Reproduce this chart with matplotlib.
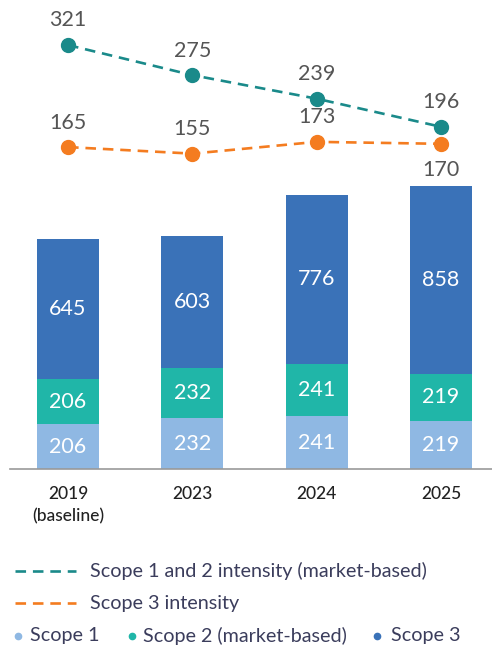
import matplotlib
matplotlib.use("Agg")
import matplotlib.pyplot as plt
import numpy as np
from matplotlib.lines import Line2D

plt.rcParams['font.family'] = ['Lato', 'DejaVu Sans']

years = ['2019\n(baseline)', '2023', '2024', '2025']
scope1 = [206, 232, 241, 219]
scope2 = [206, 232, 241, 219]
scope3 = [645, 603, 776, 858]
intensity_12 = [321, 275, 239, 196]
intensity_3 = [165, 155, 173, 170]

c_s1 = '#8fb8e3'
c_s2 = '#20b6a8'
c_s3 = '#3a72b8'
c_l12 = '#1a8a8a'
c_l3 = '#f47c20'
c_txt = '#555555'
c_leg = '#3b3d5c'

W, H = 492, 650
fig = plt.figure(figsize=(W / 100, H / 100), dpi=100)

# axes: bottom at y=469 px, top at y=20 px
top_px, bot_px = 20, 469
ax = fig.add_axes([10 / W, 1 - bot_px / H, 1 - 10 / W, (bot_px - top_px) / H])
x = np.arange(len(years))

s1 = np.array(scope1)
s2 = np.array(scope2)
s3 = np.array(scope3)
ax.bar(x, s1, width=0.5, color=c_s1)
ax.bar(x, s2, width=0.5, bottom=s1, color=c_s2)
ax.bar(x, s3, width=0.5, bottom=s1 + s2, color=c_s3)

for i in x:
    for base, val in [(0, s1[i]), (s1[i], s2[i]), (s1[i] + s2[i], s3[i])]:
        ax.text(i, base + val / 2, f'{val}', ha='center', va='center',
                color='white', fontsize=15.5)

ax.set_xlim(-0.467, 3.41)
ax.set_ylim(0, (bot_px - top_px) / 0.218)
ax.set_yticks([])
ax.set_xticks(x)
ax.set_xticklabels(years, fontsize=12.5, color='#222222', fontweight='medium',
                   linespacing=1.5)
ax.tick_params(axis='x', length=0, pad=12)
for s in ['top', 'left', 'right']:
    ax.spines[s].set_visible(False)
ax.spines['bottom'].set_color('#999999')
ax.spines['bottom'].set_linewidth(1.2)
ax.patch.set_visible(False)

# intensity lines on a twin axis
ax2 = ax.twinx()
zero_px, scale = 255, 0.654
ax2.set_ylim((zero_px - bot_px) / scale, (zero_px - top_px) / scale)
ax2.set_yticks([])
for s in ax2.spines.values():
    s.set_visible(False)

ax2.plot(x, intensity_12, color=c_l12, lw=1.9, ls=(0, (4, 2.6)),
         marker='o', ms=10)
ax2.plot(x, intensity_3, color=c_l3, lw=1.9, ls=(0, (4, 2.6)),
         marker='o', ms=10)

for i in x:
    ax2.annotate(f'{intensity_12[i]}', (i, intensity_12[i]),
                 xytext=(0, 10.5), textcoords='offset points',
                 ha='center', va='bottom', fontsize=15.5, color=c_txt)
    off = -12 if i == 3 else 10.5
    va = 'top' if i == 3 else 'bottom'
    ax2.annotate(f'{intensity_3[i]}', (i, intensity_3[i]),
                 xytext=(0, off), textcoords='offset points',
                 ha='center', va=va, fontsize=15.5, color=c_txt)

# legend, drawn by hand
def fy(py):
    return 1 - py / H

for py, col, label in [(571, c_l12, 'Scope 1 and 2 intensity (market-based)'),
                       (603, c_l3, 'Scope 3 intensity')]:
    fig.add_artist(Line2D([15 / W, 76 / W], [fy(py), fy(py)], color=col,
                          lw=1.9, ls=(0, (4, 2.6))))
    fig.text(90 / W, fy(py), label, ha='left', va='center',
             fontsize=14.2, color=c_leg)

for px, tx, col, label in [(18, 30, c_s1, 'Scope 1'),
                           (132, 143, c_s2, 'Scope 2 (market-based)'),
                           (377, 391, c_s3, 'Scope 3')]:
    fig.add_artist(Line2D([px / W], [fy(636)], color=col, marker='o',
                          ms=4.5, ls='none'))
    fig.text(tx / W, fy(636), label, ha='left', va='center',
             fontsize=14.2, color=c_leg)

fig.savefig('out.png', dpi=100)
